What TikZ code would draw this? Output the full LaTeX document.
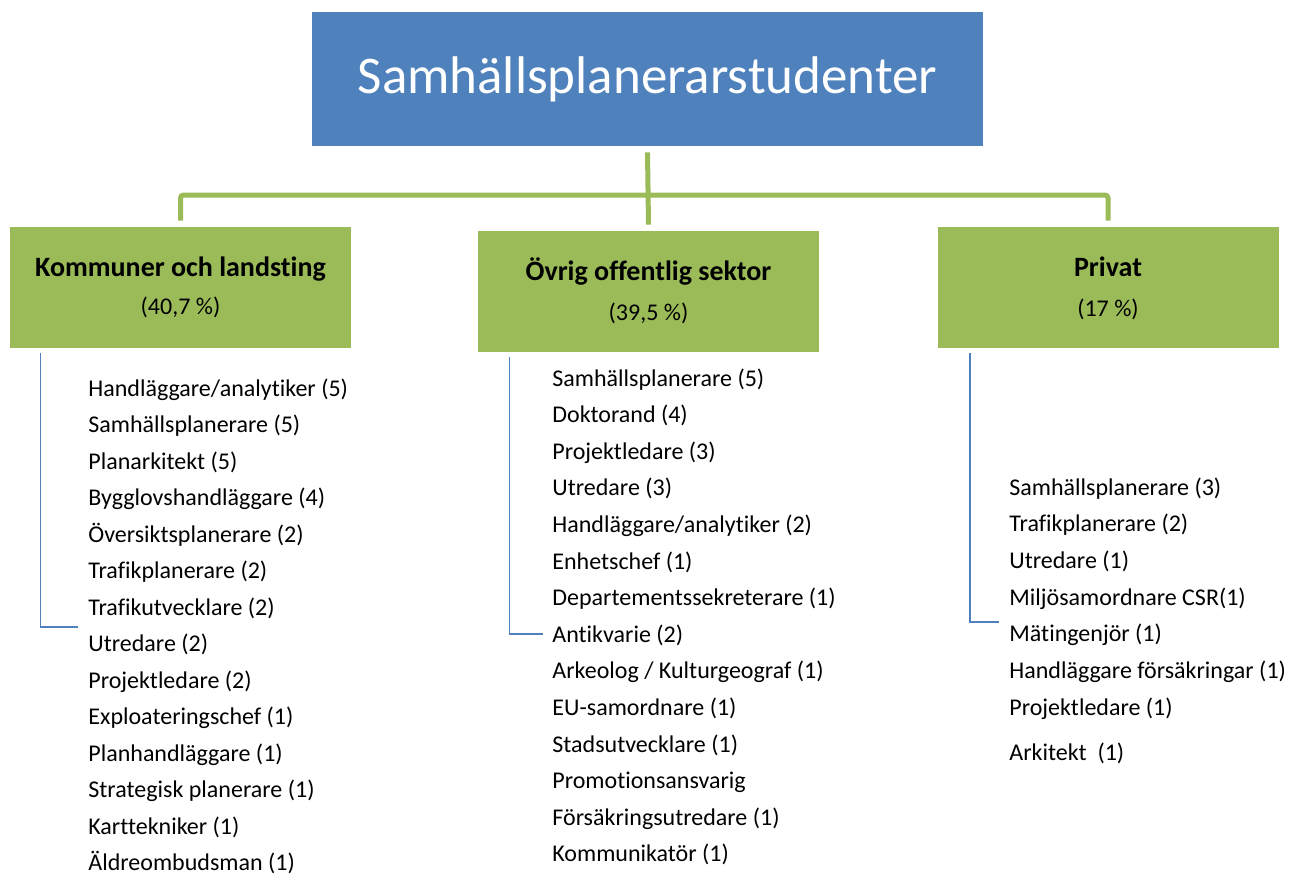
\documentclass[tikz,border=0pt]{standalone}
\usepackage{fontspec}
\setmainfont{Carlito}[Ligatures=NoCommon]
\definecolor{boxblue}{HTML}{4F81BD}
\definecolor{boxgreen}{HTML}{9BBB59}
\begin{document}
\begin{tikzpicture}[x=0.5pt,y=-0.5pt,
  topbox/.style={fill=boxblue, text=white, minimum width=335.5pt, minimum height=67pt, inner sep=0pt, font=\fontsize{26.5}{30}\selectfont},
  sectorbox/.style={fill=boxgreen, minimum width=170.5pt, minimum height=60.5pt, inner sep=0pt},
  headtext/.style={anchor=base, inner sep=0pt, font=\fontsize{14}{16}\selectfont\bfseries},
  pcttext/.style={anchor=base, inner sep=0pt, font=\fontsize{12}{14}\selectfont},
  jobtext/.style={anchor=base west, inner sep=0pt, font=\fontsize{12}{14}\selectfont},
  tree/.style={boxgreen, line width=2.5pt, rounded corners=1.5pt},
  bracket/.style={boxblue, line width=0.8pt}]
\useasboundingbox (0,0) rectangle (1289,874);

% top level
\node[topbox] (top) at (647.5,79) {Samhällsplanerarstudenter};

% sectors
\node[sectorbox] (kommun) at (180.5,287.5) {};
\node[sectorbox] (ovrig) at (648.5,291.5) {};
\node[sectorbox] (privat) at (1108,287.5) {};
\node[headtext] (kommunT) at (180.5,276) {Kommuner och landsting};
\node[pcttext] (kommunP) at (180.5,314) {(40,7 \%)};
\node[headtext] (ovrigT) at (648.5,280) {Övrig offentlig sektor};
\node[pcttext] (ovrigP) at (648.5,320) {(39,5 \%)};
\node[headtext] (privatT) at (1108,276) {Privat};
\node[pcttext] (privatP) at (1108,316) {(17 \%)};

% green tree
\coordinate (hub) at (647.5,195);
\draw[tree] ([yshift=3pt]kommun.north) |- (hub) -| ([yshift=3pt]privat.north);
\draw[tree] ([yshift=-3pt]top.south) -- ([yshift=3pt]ovrig.north);

% blue brackets
\coordinate (kommunEnd) at (78,627);
\coordinate (ovrigEnd) at (543,634);
\coordinate (privatEnd) at (999,622);
\draw[bracket] ([xshift=15.5pt,yshift=-2.5pt]kommun.south west) |- (kommunEnd);
\draw[bracket] ([xshift=16pt,yshift=-2.5pt]ovrig.south west) |- (ovrigEnd);
\draw[bracket] ([xshift=16.5pt,yshift=-2.5pt]privat.south west) |- (privatEnd);

% job lists
\foreach \job [count=\i from 0] in {Handläggare/analytiker (5), Samhällsplanerare (5),
  Planarkitekt (5), Bygglovshandläggare (4), Översiktsplanerare (2), Trafikplanerare (2),
  Trafikutvecklare (2), Utredare (2), Projektledare (2), Exploateringschef (1),
  Planhandläggare (1), Strategisk planerare (1), Karttekniker (1), Äldreombudsman (1)}
  \node[jobtext] (kommun-\i) at (88,{396+36.5*\i}) {\job};

\foreach \job [count=\i from 0] in {Samhällsplanerare (5), Doktorand (4), Projektledare (3),
  Utredare (3), Handläggare/analytiker (2), Enhetschef (1), Departementssekreterare (1),
  Antikvarie (2), Arkeolog / Kulturgeograf (1), EU-samordnare (1), Stadsutvecklare (1),
  Promotionsansvarig, Försäkringsutredare (1), Kommunikatör (1)}
  \node[jobtext] (ovrig-\i) at (552,{386+36.6*\i}) {\job};

\foreach \job [count=\i from 0] in {Samhällsplanerare (3), Trafikplanerare (2), Utredare (1),
  Miljösamordnare CSR(1), Mätingenjör (1), Handläggare försäkringar (1), Projektledare (1)}
  \node[jobtext] (privat-\i) at (1009,{495+36.67*\i}) {\job};
\node[jobtext] (privat-7) at (1009,760) {Arkitekt~ (1)};
\end{tikzpicture}
\end{document}
